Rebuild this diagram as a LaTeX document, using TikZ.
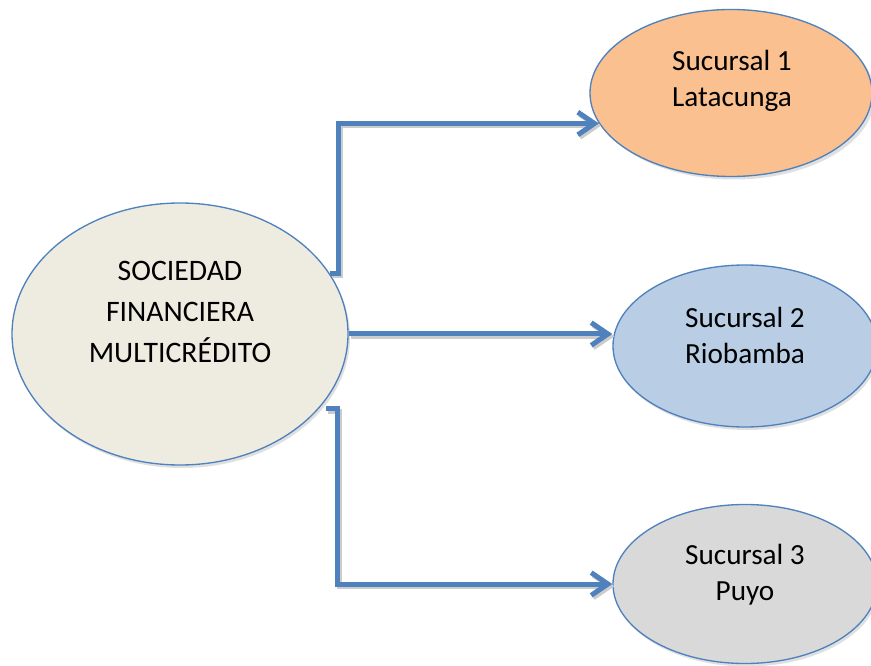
\documentclass[tikz,border=0pt]{standalone}
\usepackage{fontspec}
\setmainfont{Carlito}
\usetikzlibrary{shapes.geometric,arrows.meta}
\definecolor{edgeblue}{HTML}{4F81BD}
\definecolor{fillmain}{HTML}{EEECE1}
\definecolor{fillone}{HTML}{FAC090}
\definecolor{filltwo}{HTML}{B9CDE5}
\definecolor{fillthree}{HTML}{D9D9D9}
\begin{document}
\begin{tikzpicture}[x=0.75pt,y=-0.75pt,
  oval/.style={ellipse,draw=edgeblue,line width=1pt,inner sep=0pt},
  lbl/.style={align=center,inner sep=0pt,font=\fontsize{21.9pt}{27pt}\selectfont},
  mainlbl/.style={align=center,inner sep=0pt,font=\fontsize{22.3pt}{31pt}\selectfont},
  conn/.style={draw=edgeblue,line width=3.75pt,line join=miter,-{Straight Barb[length=12.5pt,width=17pt]}},
  connshadow/.style={draw=black!20,line width=3.75pt,line join=miter,-{Straight Barb[length=12.5pt,width=17pt]},transform canvas={shift={(1.5pt,-1.8pt)}}},
  ovalshadow/.style={fill=black!12}
]
\useasboundingbox (0,0) rectangle (871,666);
\clip (0,0) rectangle (871,666);
% shadows of ovals
\fill[ovalshadow] (182,337) ellipse [x radius=168, y radius=131];
\fill[ovalshadow] (734,96) ellipse [x radius=141, y radius=83.5];
\fill[ovalshadow] (747,349) ellipse [x radius=132, y radius=81];
\fill[ovalshadow] (747,587) ellipse [x radius=132, y radius=79.5];
% ovals
\node[oval,fill=fillmain,minimum width=252pt,minimum height=196.5pt] (main) at (180,334) {};
\node[oval,fill=fillone,minimum width=211.5pt,minimum height=125.25pt] (s1) at (731,93) {};
\node[oval,fill=filltwo,minimum width=198pt,minimum height=121.5pt] (s2) at (745,346) {};
\node[oval,fill=fillthree,minimum width=198pt,minimum height=119.25pt] (s3) at (745,584) {};
% labels
\node[mainlbl] (tmain) at (180,312) {SOCIEDAD\\FINANCIERA\\MULTICRÉDITO};
\node[lbl] (t1) at (732,81) {Sucursal 1\\Latacunga};
\node[lbl] (t2) at (745,335) {Sucursal 2\\Riobamba};
\node[lbl] (t3) at (745,575) {Sucursal 3\\Puyo};
% connector shadows
\draw[connshadow] (main.22) -- ++(9,0) |- (s1.193);
\draw[connshadow] (main.east) -- (main.east -| s2.west);
\draw[connshadow] ([shift={(5,3)}]main.-27) -- ++(11,0) |- (s3.west);
% connectors
\draw[conn] (main.22) -- ++(9,0) |- (s1.193);
\draw[conn] (main.east) -- (main.east -| s2.west);
\draw[conn] ([shift={(5,3)}]main.-27) -- ++(11,0) |- (s3.west);
\end{tikzpicture}
\end{document}
